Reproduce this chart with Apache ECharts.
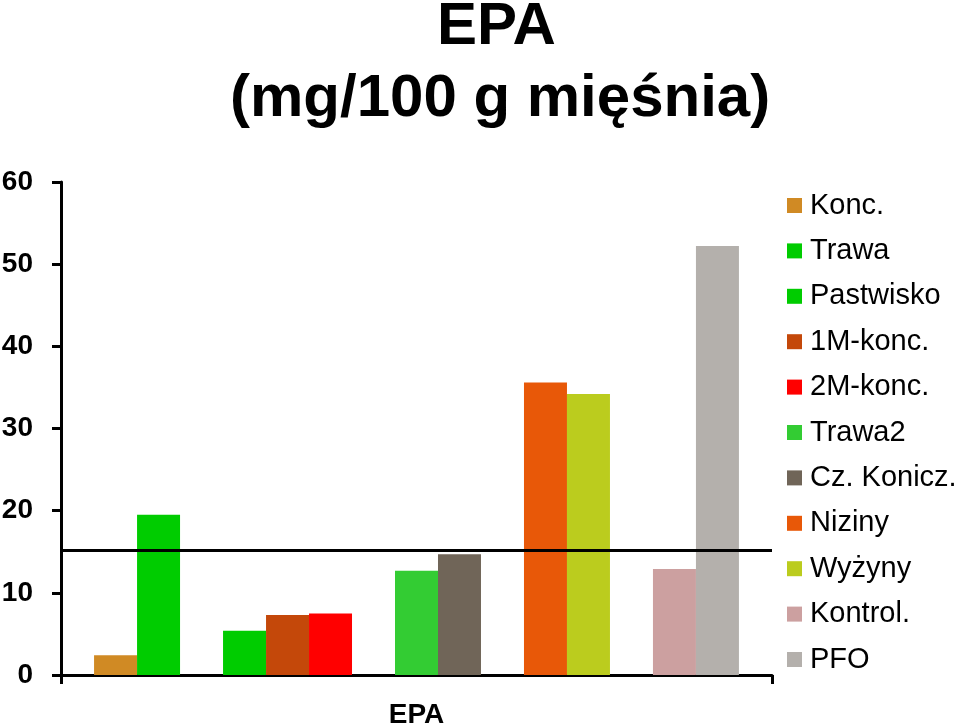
<!DOCTYPE html>
<html>
<head>
<meta charset="utf-8">
<script src="https://cdn.jsdelivr.net/npm/echarts@6/dist/echarts.min.js"></script>
<style>html,body{margin:0;padding:0;background:#fff}#c{width:960px;height:724px}</style>
</head>
<body>
<div id="c"></div>
<script>
// Data
const categories = ['EPA'];
const titleLines = ['EPA', '(mg/100 g mięśnia)'];
// null entries are empty spacer slots between groups of bars
const seriesNames = ['Konc.', 'Trawa', null, 'Pastwisko', '1M-konc.', '2M-konc.', null, 'Trawa2', 'Cz. Konicz.', null, 'Niziny', 'Wyżyny', null, 'Kontrol.', 'PFO'];
const seriesValues = [2.4, 19.5, null, 5.4, 7.3, 7.5, null, 12.7, 14.7, null, 35.6, 34.2, null, 12.9, 52.2];
const seriesColors = ['#D08A24', '#00CC00', null, '#00CC00', '#C4480A', '#FF0000', null, '#33CC33', '#706558', null, '#E85808', '#BBCC1E', null, '#CCA0A0', '#B4B0AC'];
const referenceValue = 15.2;
const yTicks = [0, 10, 20, 30, 40, 50, 60];

const FONT = 'Liberation Sans';
const chart = echarts.init(document.getElementById('c'), null, {renderer: 'canvas'});

const series = seriesNames.map((name, i) => ({
  type: 'bar',
  name: name === null ? ('gap' + i) : name,
  data: [seriesValues[i]],
  barGap: '0%',
  barCategoryGap: '9.3%',
  itemStyle: {color: seriesColors[i] || 'transparent'},
  silent: true,
  animation: false
}));
series[0].markLine = {
  silent: true,
  symbol: ['none', 'none'],
  label: {show: false},
  lineStyle: {color: '#000', width: 3, type: 'solid'},
  data: [{yAxis: referenceValue}],
  animation: false
};

const titleStyle = {fontFamily: FONT, fontWeight: 'bold', fontSize: 60, lineHeight: 73, color: '#000'};

chart.setOption({
  animation: false,
  backgroundColor: '#fff',
  title: [
    {text: titleLines[0], left: 437, top: -9, padding: 0, textStyle: titleStyle},
    {text: titleLines[1], left: 230, top: 63, padding: 0, textStyle: titleStyle}
  ],
  legend: {
    orient: 'vertical',
    left: 787,
    top: 191,
    padding: 0,
    icon: 'rect',
    itemWidth: 15,
    itemHeight: 15,
    itemGap: 16.4,
    data: seriesNames.filter(n => n !== null),
    textStyle: {fontFamily: FONT, fontSize: 29, lineHeight: 28, color: '#000', padding: [0, 0, 0, 3]},
    selectedMode: false
  },
  grid: {left: 61, right: 188, top: 182, bottom: 49, containLabel: false, outerBoundsMode: 'none'},
  xAxis: {
    type: 'category',
    data: categories,
    axisLine: {lineStyle: {color: '#000', width: 3}},
    axisTick: {show: true, length: 9, lineStyle: {color: '#000', width: 3}},
    axisLabel: {fontFamily: FONT, fontWeight: 'bold', fontSize: 28, color: '#000', margin: 26}
  },
  yAxis: {
    type: 'value',
    min: yTicks[0],
    max: yTicks[yTicks.length - 1],
    interval: 10,
    axisLine: {show: true, lineStyle: {color: '#000', width: 3}},
    axisTick: {show: true, length: 9, lineStyle: {color: '#000', width: 3}},
    splitLine: {show: false},
    axisLabel: {fontFamily: FONT, fontWeight: 'bold', fontSize: 28, color: '#000', margin: 28}
  },
  series: series
});
</script>
</body>
</html>
